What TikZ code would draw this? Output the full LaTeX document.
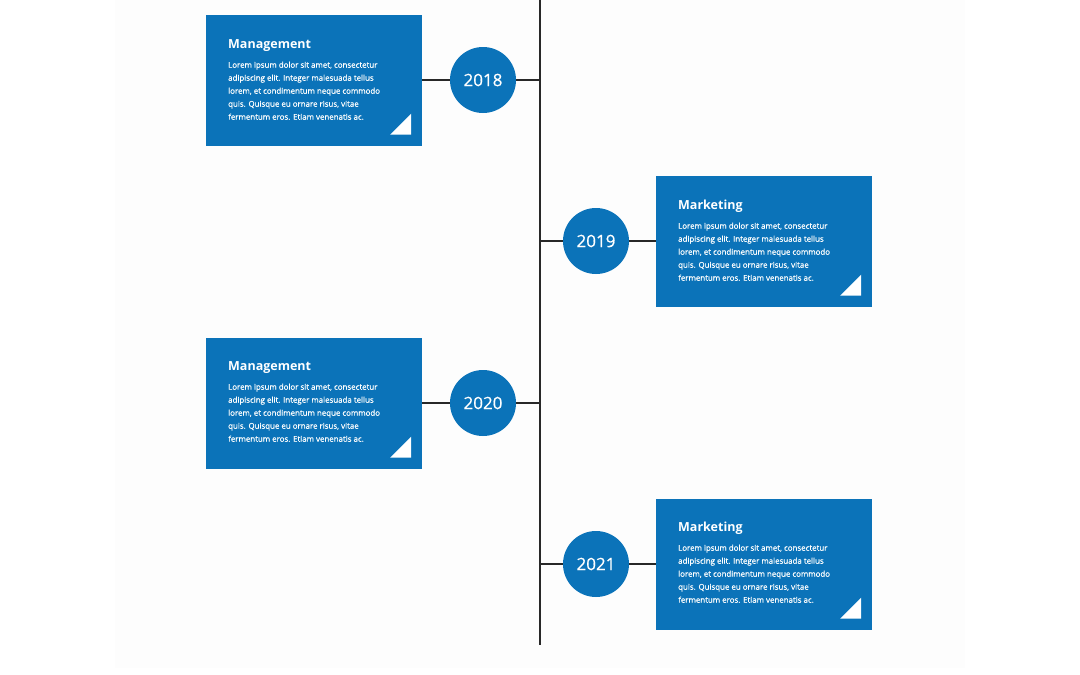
\documentclass[tikz,border=0pt]{standalone}
\usepackage{fontspec}
\setmainfont{Open Sans}
\newfontfamily\semib[FakeBold=0.6]{Open Sans}
\definecolor{tlblue}{RGB}{11,115,185}
\definecolor{tlline}{RGB}{40,40,40}
\definecolor{pagebg}{RGB}{253,253,253}
\begin{document}
\begin{tikzpicture}[x=1pt,y=-1pt,
  card/.style={rectangle, fill=tlblue, minimum width=216pt, minimum height=131pt, inner sep=0pt},
  year/.style={circle, fill=tlblue, minimum size=66pt, inner sep=0pt, text=white, font=\semib\fontsize{17}{20}\selectfont},
  ttl/.style={anchor=base west, text=white, inner sep=0pt, font=\bfseries\fontsize{12.5}{15}\selectfont},
  body/.style={anchor=north west, text=white, inner sep=0pt, align=left, font=\semib\fontsize{7.9}{13}\selectfont},
  link/.style={draw=tlline, line width=1.5pt},
  corner/.style={fill=white}
]
\useasboundingbox (0,0) rectangle (1080,675);
\fill[pagebg] (115,0) rectangle (965,668);

\coordinate (top) at (540,0);
\coordinate (bot) at (540,645);
\draw[link] (top) -- (bot);

\newcommand{\lorem}{Lorem ipsum dolor sit amet, consectetur\\adipiscing elit. Integer malesuada tellus\\lorem, et condimentum neque commodo\\quis. Quisque eu ornare risus, vitae\\fermentum eros. Etiam venenatis ac.}

% 2018
\node[card] (c1) at (314,80) {};
\node[year] (y1) at (483,80) {2018};
\coordinate (s1) at (540,80);
\draw[link] (c1.east) -- (y1.west);
\draw[link] (y1.east) -- (s1);
\node[ttl] (t1) at (228,48) {Management};
\node[body] (b1) at (228,61.5) {\lorem};
\fill[corner] ([xshift=-32pt,yshift=11pt]c1.south east) -- ([xshift=-11pt,yshift=11pt]c1.south east) -- ([xshift=-11pt,yshift=32pt]c1.south east) -- cycle;

% 2019
\node[card] (c2) at (764,241) {};
\node[year] (y2) at (596,241) {2019};
\coordinate (s2) at (540,241);
\draw[link] (s2) -- (y2.west);
\draw[link] (y2.east) -- (c2.west);
\node[ttl] (t2) at (678,209) {Marketing};
\node[body] (b2) at (678,222.5) {\lorem};
\fill[corner] ([xshift=-32pt,yshift=11pt]c2.south east) -- ([xshift=-11pt,yshift=11pt]c2.south east) -- ([xshift=-11pt,yshift=32pt]c2.south east) -- cycle;

% 2020
\node[card] (c3) at (314,403) {};
\node[year] (y3) at (483,403) {2020};
\coordinate (s3) at (540,403);
\draw[link] (c3.east) -- (y3.west);
\draw[link] (y3.east) -- (s3);
\node[ttl] (t3) at (228,370) {Management};
\node[body] (b3) at (228,383.5) {\lorem};
\fill[corner] ([xshift=-32pt,yshift=11pt]c3.south east) -- ([xshift=-11pt,yshift=11pt]c3.south east) -- ([xshift=-11pt,yshift=32pt]c3.south east) -- cycle;

% 2021
\node[card] (c4) at (764,564) {};
\node[year] (y4) at (596,564) {2021};
\coordinate (s4) at (540,564);
\draw[link] (s4) -- (y4.west);
\draw[link] (y4.east) -- (c4.west);
\node[ttl] (t4) at (678,531) {Marketing};
\node[body] (b4) at (678,544.5) {\lorem};
\fill[corner] ([xshift=-32pt,yshift=11pt]c4.south east) -- ([xshift=-11pt,yshift=11pt]c4.south east) -- ([xshift=-11pt,yshift=32pt]c4.south east) -- cycle;
\end{tikzpicture}
\end{document}
